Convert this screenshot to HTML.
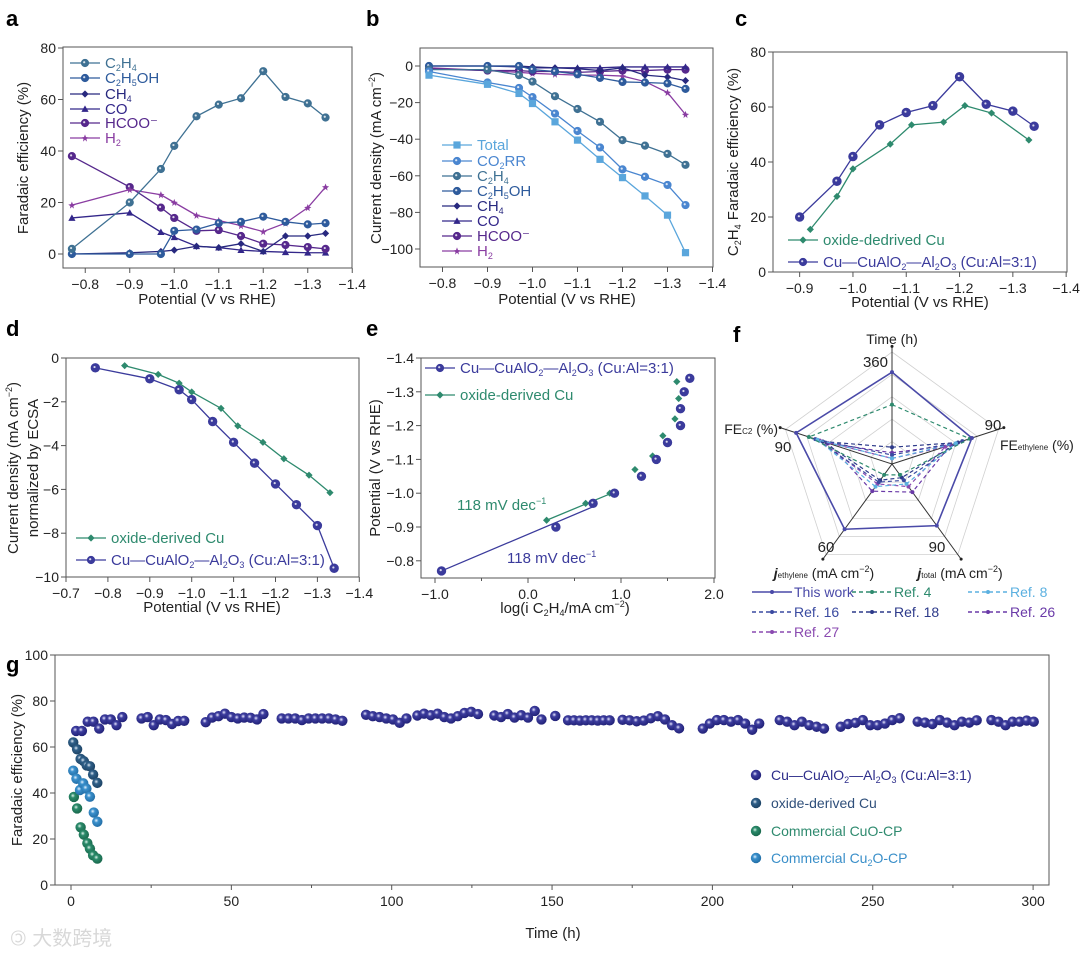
<!DOCTYPE html>
<html><head><meta charset="utf-8"><style>
html,body{margin:0;padding:0;background:#fff;}
svg{display:block;font-family:"Liberation Sans","Noto Sans CJK SC",sans-serif;}
</style></head><body>
<svg id="fig" width="1080" height="956" viewBox="0 0 1080 956" xmlns="http://www.w3.org/2000/svg">
<defs>
<radialGradient id="gNavy" cx="0.4" cy="0.38" r="0.6"><stop offset="0" stop-color="#e8e8ff"/><stop offset="0.35" stop-color="#3d3d9e"/><stop offset="1" stop-color="#23237a"/></radialGradient>
<radialGradient id="gTeal" cx="0.4" cy="0.38" r="0.6"><stop offset="0" stop-color="#dfeaf5"/><stop offset="0.35" stop-color="#2f5f88"/><stop offset="1" stop-color="#1d4466"/></radialGradient>
<radialGradient id="gGreen" cx="0.4" cy="0.38" r="0.6"><stop offset="0" stop-color="#dff5ec"/><stop offset="0.35" stop-color="#2a8a6a"/><stop offset="1" stop-color="#1a6a4e"/></radialGradient>
<radialGradient id="gBlue" cx="0.4" cy="0.38" r="0.6"><stop offset="0" stop-color="#e6f3ff"/><stop offset="0.35" stop-color="#3a90cc"/><stop offset="1" stop-color="#2470a8"/></radialGradient>
</defs>
<text x="6" y="26" font-size="22" font-weight="bold">a</text>
<text x="366" y="26" font-size="22" font-weight="bold">b</text>
<text x="735" y="26" font-size="22" font-weight="bold">c</text>
<text x="6" y="336" font-size="22" font-weight="bold">d</text>
<text x="366" y="336" font-size="22" font-weight="bold">e</text>
<text x="733" y="342" font-size="22" font-weight="bold">f</text>
<text x="6" y="672" font-size="22" font-weight="bold">g</text>
<text x="10" y="945" font-size="20" fill="#d8d8d8">🄯 大数跨境</text>
</svg>
<script>
// ---------- Panel a data ----------
const aPot = [-0.77,-0.9,-0.97,-1.0,-1.05,-1.1,-1.15,-1.2,-1.25,-1.3,-1.34];
const aC2H4 = [2,20,33,42,53.5,58,60.5,71,61,58.5,53];
const aC2H5OH = [0,0,0,9,9.5,12,12.5,14.5,12.5,11.5,12];
const aCH4 = [0,0.5,1,1.5,3,2.5,4,1,7,7,8];
const aCO = [14,16,8.5,6.5,3,2.5,1.5,1,0.7,0.5,0.5];
const aHCOO = [38,26,18,14,9,9.3,7,4,3.5,2.7,2];
const aH2 = [19,25,23,20,15,13,11,8.7,12,18,26];
const aYTicks = [0,20,40,60,80];
const potTicks = [-0.8,-0.9,-1.0,-1.1,-1.2,-1.3,-1.4];
// ---------- Panel b data ----------
const bTotal = [-5,-10,-15,-20.5,-30.5,-40.5,-51,-61,-71,-81.5,-102];
const bCO2RR = [-3,-9,-12,-17,-26,-35.5,-44.5,-56.5,-60.5,-65,-76];
const bC2H4 = [-2,-2,-5,-8.5,-16.5,-23.5,-30.5,-40.5,-43.5,-48,-54];
const bC2H5OH = [0,0,0,-2,-3,-4.5,-6.5,-8.7,-9,-9.5,-12.5];
const bCH4 = [0,0,0,-0.5,-1,-1.5,-2.5,-1,-5,-6,-8];
const bCO = [0,0,-0.5,-1,-1,-1,-1,-0.5,-0.5,-0.5,-0.5];
const bHCOO = [-1.5,-2.5,-2.5,-3,-3,-3.5,-3,-2.5,-2.5,-2,-2];
const bH2 = [-1,-2.5,-3.5,-4,-4.5,-5,-5,-5.5,-8.5,-14.5,-26.5];
const bYTicks = [0,-20,-40,-60,-80,-100];
// ---------- Panel c data ----------
const cPotCu = [-0.9,-0.97,-1.0,-1.05,-1.1,-1.15,-1.2,-1.25,-1.3,-1.34];
const cFECu = [20,33,42,53.5,58,60.5,71,61,58.5,53];
const cPotOD = [-0.92,-0.97,-1.0,-1.07,-1.11,-1.17,-1.21,-1.26,-1.33];
const cFEOD = [15.5,27.5,37.5,46.5,53.5,54.5,60.5,57.8,48];
const cXTicks = [-0.9,-1.0,-1.1,-1.2,-1.3,-1.4];
// ---------- Panel d data ----------
const dPotCu = [-0.77,-0.9,-0.97,-1.0,-1.05,-1.1,-1.15,-1.2,-1.25,-1.3,-1.34];
const dJCu = [-0.45,-0.95,-1.45,-1.9,-2.9,-3.85,-4.8,-5.75,-6.7,-7.65,-9.6];
const dPotOD = [-0.84,-0.92,-0.97,-1.0,-1.07,-1.11,-1.17,-1.22,-1.28,-1.33];
const dJOD = [-0.35,-0.75,-1.15,-1.55,-2.3,-3.1,-3.85,-4.6,-5.35,-6.15];
const dXTicks = [-0.7,-0.8,-0.9,-1.0,-1.1,-1.2,-1.3,-1.4];
const dYTicks = [0,-2,-4,-6,-8,-10];
// ---------- Panel e data ----------
const eLogCu = [-0.93,0.3,0.7,0.93,1.22,1.38,1.5,1.64,1.64,1.68,1.74];
const ePotCu = [-0.77,-0.9,-0.97,-1.0,-1.05,-1.1,-1.15,-1.2,-1.25,-1.3,-1.34];
const eLogOD = [0.2,0.62,0.88,1.15,1.34,1.45,1.58,1.62,1.6];
const ePotOD = [-0.92,-0.97,-1.0,-1.07,-1.11,-1.17,-1.22,-1.28,-1.33];
const eFitCuX = [-0.93,0.7];
const eFitCuY = [-0.77,-0.96];
const eFitODX = [0.2,0.9];
const eFitODY = [-0.92,-1.0];
const eXTicks = [-1.0,0.0,1.0,2.0];
const eYTicks = [-0.8,-0.9,-1.0,-1.1,-1.2,-1.3,-1.4];
// ---------- Panel f data (order: Time, FEethylene, jtotal, jethylene, FEC2) ----------
const fSeriesNames = ["This work","Ref. 4","Ref. 8","Ref. 16","Ref. 18","Ref. 26","Ref. 27"];
const fThis = [0.82,0.75,0.68,0.72,0.90];
const fRef4 = [0.53,0.73,0.12,0.12,0.78];
const fRef8 = [0.05,0.60,0.22,0.25,0.70];
const fRef16 = [0.08,0.66,0.18,0.20,0.72];
const fRef18 = [0.15,0.62,0.15,0.18,0.65];
const fRef26 = [0.10,0.55,0.31,0.30,0.60];
const fRef27 = [0.05,0.50,0.25,0.22,0.68];
// ---------- Panel g data ----------
const gSegStart = [1.6,22,42,65.7,92,108,132,151,155,172,197,221,240,264,287];
const gSegStep = [1.8,1.9,2.0,2.1,2.1,2.1,2.1,1,1.85,2.2,2.2,2.3,2.3,2.3,2.2];
const gSegVals = [
 [67,67,71,71,68,72,72,69.5,73],
 [72.4,73,69.5,72,71.7,70,71.3,71.4],
 [70.8,72.8,73.4,74.5,73,72.4,72.8,72.7,72,74.3],
 [72.4,72.4,72.4,71.7,72.4,72.4,72.4,72.4,72,71.4],
 [74,73.4,73,72.4,72,70.5,72.4],
 [73.7,74.5,73.8,74.5,73,72.4,73.4,74.8,75.3,74.3],
 [73.7,73,74.3,72.8,73.8,72.8,75.7,72],
 [73.5],
 [71.6,71.6,71.5,71.6,71.6,71.5,71.6,71.6],
 [71.8,71.6,71.2,71.5,72.5,73.4,72,69.5,68.1],
 [68,70.2,71.7,71.7,71,71.7,70.2,67.5,70.2],
 [71.7,71,69.5,71,69.5,68.8,68],
 [68.8,70,70.5,71.7,69.5,69.5,70.2,71.7,72.5],
 [71,70.6,70,71.7,70.6,69.5,71,70.6,71.6],
 [71.7,71,69.5,71,71,71.5,71]
];
const gODTime = [0.7,1.9,3,4,4.9,5.9,6.9,8.2];
const gODFE = [62,59,54.8,53.8,52,51.6,48,44.4];
const gCu2OTime = [0.7,1.7,2.8,3.8,4.8,5.9,7.1,8.2];
const gCu2OFE = [49.7,46.2,41.3,44.2,41.9,38.4,31.5,27.5];
const gCuOTime = [0.9,1.9,3,4,5.1,5.9,6.9,8.2];
const gCuOFE = [38.3,33.3,25.1,21.9,18.2,15.8,12.9,11.5];
const gXTicks = [0,50,100,150,200,250,300];
const gYTicks = [0,20,40,60,80,100];

const NS = "http://www.w3.org/2000/svg";
const svg = document.getElementById('fig');
function el(tag, attrs, parent, txt){
  const e = document.createElementNS(NS, tag);
  for (const k in attrs) e.setAttribute(k, attrs[k]);
  if (txt !== undefined) e.textContent = txt;
  (parent || svg).appendChild(e);
  return e;
}
function fmt(v, d){ const s = Math.abs(v).toFixed(d); return (v < 0 ? "\u2212" : "") + s; }

function frame(x0,y0,x1,y1,name){
  const r = el('rect',{x:x0,y:y0,width:x1-x0,height:y1-y0,fill:'none',stroke:'#555','stroke-width':1});
  
  
}
function xTicks(ticks, sx, yb, dec, name, minor){
  ticks.forEach(t=>{
    const x = sx(t);
    const l = el('line',{x1:x,y1:yb,x2:x,y2:yb+5,stroke:'#555'});
    
    
    const tx = el('text',{x:x,y:yb+21,'font-size':14,'text-anchor':'middle',fill:'#222'}, null, fmt(t,dec));
    
    
  });
  if (minor) minor.forEach(t=>{
    const x = sx(t);
    const l = el('line',{x1:x,y1:yb,x2:x,y2:yb+3,stroke:'#555'});
    
    
  });
}
function yTicks(ticks, sy, xl, dec, name){
  ticks.forEach(t=>{
    const y = sy(t);
    const l = el('line',{x1:xl-5,y1:y,x2:xl,y2:y,stroke:'#555'});
    
    
    const tx = el('text',{x:xl-7,y:y+5,'font-size':14,'text-anchor':'end',fill:'#222'}, null, fmt(t,dec));
    
    
  });
}
function marker(type, x, y, color, name, size){
  const s = size || 3.6;
  let m;
  if (type==='circle') m = el('circle',{cx:x,cy:y,r:s,fill:color,stroke:color});
  else if (type==='square') m = el('rect',{x:x-s,y:y-s,width:2*s,height:2*s,fill:color});
  else if (type==='diamond') m = el('polygon',{points:`${x},${y-s} ${x+s},${y} ${x},${y+s} ${x-s},${y}`,fill:color});
  else if (type==='tri') m = el('polygon',{points:`${x},${y-s} ${x+s},${y+s*0.8} ${x-s},${y+s*0.8}`,fill:color});
  else if (type==='star') m = el('polygon',{points:`${x},${y-s} ${x+1},${y-1} ${x+s},${y-0.5} ${x+1.5},${y+1} ${x+2},${y+s} ${x},${y+1.8} ${x-2},${y+s} ${x-1.5},${y+1} ${x-s},${y-0.5} ${x-1},${y-1}`,fill:color});
  
  
  if (type==='circle'){ const h = el('circle',{cx:x-0.8,cy:y-0.8,r:1.1,fill:'#fff',opacity:0.8});   }
}
function series(xs, ys, sx, sy, color, type, name, dash, size){
  const pts = xs.map((v,i)=>sx(v)+','+sy(ys[i])).join(' ');
  const p = el('polyline',{points:pts,fill:'none',stroke:color,'stroke-width':1.3,'stroke-dasharray':dash||'none'});
  
  
  if (type) xs.forEach((v,i)=>marker(type, sx(v), sy(ys[i]), color, name+'-point', size));
}
function legendLine(x, y, color, type, label, name, tcolor, dash, fs){
  const l = el('line',{x1:x,y1:y,x2:x+30,y2:y,stroke:color,'stroke-width':1.3,'stroke-dasharray':dash||'none'});
  
  
  if (type) marker(type, x+15, y, color, name+'-swatch-marker');
  const t = el('text',{x:x+35,y:y+5,'font-size':fs||15,fill:tcolor||color}, null, label);
  
  
  return t;
}
function title(x,y,txt,name,rot,fs){
  const t = el('text',{x:x,y:y,'font-size':fs||15,'text-anchor':'middle',fill:'#222',transform:rot?`rotate(-90 ${x} ${y})`:''}, null, '');
  t.innerHTML = txt;
  
  
}
const sub = s => `<tspan font-size="9" baseline-shift="-3">${s}</tspan>`;
const sup = s => `<tspan font-size="9" baseline-shift="6">${s}</tspan>`;

// ---------- Panel a ----------
{
  const sx = v => 63 + (-v-0.75)*445, sy = v => 254 - v*2.575;
  frame(63,47,352,268,'panel-a-frame');
  xTicks(potTicks, sx, 268, 1, 'a-x-axis');
  yTicks(aYTicks, sy, 63, 0, 'a-y-axis');
  title(207,304,'Potential (V vs RHE)','a-x-axis-title');
  title(28,158,'Faradaic efficiency (%)','a-y-axis-title',true);
  const cols = ['#3f7193','#2e5b9c','#28297f','#33278a','#56288c','#8a3da2'];
  series(aPot,aCO,sx,sy,cols[3],'tri','a-series-co');
  series(aPot,aHCOO,sx,sy,cols[4],'circle','a-series-hcoo');
  series(aPot,aH2,sx,sy,cols[5],'star','a-series-h2');
  series(aPot,aCH4,sx,sy,cols[2],'diamond','a-series-ch4');
  series(aPot,aC2H5OH,sx,sy,cols[1],'circle','a-series-c2h5oh');
  series(aPot,aC2H4,sx,sy,cols[0],'circle','a-series-c2h4');
  const labs = ['C'+sub('2')+'H'+sub('4'),'C'+sub('2')+'H'+sub('5')+'OH','CH'+sub('4'),'CO','HCOO\u207B','H'+sub('2')];
  const types = ['circle','circle','diamond','tri','circle','star'];
  const ys = [63,78,94,109,123,138];
  labs.forEach((lb,i)=>{ const t = legendLine(70,ys[i],cols[i],types[i],'', 'a-legend-entry-'+i); t.innerHTML = lb; });
}
// ---------- Panel b ----------
{
  const sx = v => 420 + (-v-0.75)*450, sy = v => 66 - v*1.83;
  frame(420,48,713,267,'panel-b-frame');
  xTicks(potTicks, sx, 267, 1, 'b-x-axis');
  yTicks(bYTicks, sy, 420, 0, 'b-y-axis');
  title(567,304,'Potential (V vs RHE)','b-x-axis-title');
  title(381,158,'Current density (mA cm'+sup('\u22122')+')','b-y-axis-title',true);
  const cols = ['#5aa6dc','#4a86d0','#3f7193','#2e5b9c','#28297f','#33278a','#56288c','#8a3da2'];
  const data = [bTotal,bCO2RR,bC2H4,bC2H5OH,bCH4,bCO,bHCOO,bH2];
  const types = ['square','circle','circle','circle','diamond','tri','circle','star'];
  const names = ['total','co2rr','c2h4','c2h5oh','ch4','co','hcoo','h2'];
  for (let i=data.length-1;i>=0;i--) series(aPot,data[i],sx,sy,cols[i],types[i],'b-series-'+names[i]);
  const labs = ['Total','CO'+sub('2')+'RR','C'+sub('2')+'H'+sub('4'),'C'+sub('2')+'H'+sub('5')+'OH','CH'+sub('4'),'CO','HCOO\u207B','H'+sub('2')];
  const ys = [145,161,176,191,206,221,236,251];
  labs.forEach((lb,i)=>{ const t = legendLine(442,ys[i],cols[i],types[i],'', 'b-legend-entry-'+names[i]); t.innerHTML = lb; });
}
// ---------- Panel c ----------
{
  const sx = v => 773 + (-v-0.85)*533, sy = v => 272 - v*2.75;
  frame(773,52,1067,272,'panel-c-frame');
  xTicks(cXTicks, sx, 272, 1, 'c-x-axis');
  yTicks(aYTicks, sy, 773, 0, 'c-y-axis');
  title(920,307,'Potential (V vs RHE)','c-x-axis-title');
  title(738,162,'C'+sub('2')+'H'+sub('4')+' Faradaic efficiency (%)','c-y-axis-title',true);
  series(cPotOD,cFEOD,sx,sy,'#2e8a6e','diamond','c-series-oxide-derived-cu');
  series(cPotCu,cFECu,sx,sy,'#3b3b9c','circle','c-series-cu-cualo2',null,4.2);
  legendLine(788,240,'#2e8a6e','diamond','oxide-dedrived Cu','c-legend-oxide-derived');
  const t = legendLine(788,262,'#3b3b9c','circle','','c-legend-cu-cualo2');
  t.innerHTML = 'Cu\u2014CuAlO'+sub('2')+'\u2014Al'+sub('2')+'O'+sub('3')+' (Cu:Al=3:1)';
}
// ---------- Panel d ----------
{
  const sx = v => 66 + (-v-0.7)*419, sy = v => 358 - v*21.9;
  frame(66,358,359,577,'panel-d-frame');
  xTicks(dXTicks, sx, 577, 1, 'd-x-axis');
  yTicks(dYTicks, sy, 66, 0, 'd-y-axis');
  title(212,612,'Potential (V vs RHE)','d-x-axis-title');
  title(18,468,'Current density (mA cm'+sup('\u22122')+')','d-y-axis-title',true);
  title(38,468,'normalized by ECSA','d-y-axis-title-2',true);
  series(dPotOD,dJOD,sx,sy,'#2e8a6e','diamond','d-series-oxide-derived-cu');
  series(dPotCu,dJCu,sx,sy,'#3b3b9c','circle','d-series-cu-cualo2',null,4.2);
  legendLine(76,538,'#2e8a6e','diamond','oxide-derived Cu','d-legend-oxide-derived');
  const t = legendLine(76,560,'#3b3b9c','circle','','d-legend-cu-cualo2');
  t.innerHTML = 'Cu\u2014CuAlO'+sub('2')+'\u2014Al'+sub('2')+'O'+sub('3')+' (Cu:Al=3:1)';
}
// ---------- Panel e ----------
{
  const sx = v => 528 + v*93, sy = v => 358 + (v+1.4)*338;
  frame(421,358,715,578,'panel-e-frame');
  xTicks(eXTicks, sx, 578, 1, 'e-x-axis',[-0.5,0.5,1.5]);
  yTicks(eYTicks, sy, 421, 1, 'e-y-axis');
  title(565,613,'log(i C'+sub('2')+'H'+sub('4')+'/mA cm'+sup('\u22122')+')','e-x-axis-title');
  title(380,468,'Potential (V vs RHE)','e-y-axis-title',true);
  series(eFitODX,eFitODY,sx,sy,'#2e8a6e',null,'e-fit-oxide-derived');
  series(eFitCuX,eFitCuY,sx,sy,'#3b3b9c',null,'e-fit-cu-cualo2');
  eLogOD.forEach((v,i)=>marker('diamond',sx(v),sy(ePotOD[i]),'#2e8a6e','e-point-oxide-derived'));
  eLogCu.forEach((v,i)=>marker('circle',sx(v),sy(ePotCu[i]),'#3b3b9c','e-point-cu-cualo2',4.2));
  const t = legendLine(425,368,'#3b3b9c','circle','','e-legend-cu-cualo2');
  t.innerHTML = 'Cu\u2014CuAlO'+sub('2')+'\u2014Al'+sub('2')+'O'+sub('3')+' (Cu:Al=3:1)';
  legendLine(425,395,'#2e8a6e','diamond','oxide-derived Cu','e-legend-oxide-derived');
  const a1 = el('text',{x:457,y:510,'font-size':15,fill:'#2e8a6e'},null,'');
  a1.innerHTML = '118 mV dec'+sup('\u22121');
  
  
  const a2 = el('text',{x:507,y:563,'font-size':15,fill:'#3b3b9c'},null,'');
  a2.innerHTML = '118 mV dec'+sup('\u22121');
  
  
}
// ---------- Panel f radar ----------
{
  const cx = 892, cy = 464, R = 112;
  const ang = i => (-90 + 72*i) * Math.PI/180;
  const pt = (i,r) => [cx + r*Math.cos(ang(i)), cy + r*Math.sin(ang(i))];
  [0.2,0.4,0.6,0.8,1.0].forEach(lv=>{
    const g = el('polygon',{points:[0,1,2,3,4].map(i=>pt(i,lv*R).join(',')).join(' '),fill:'none',stroke:'#d0d0d0','stroke-width':0.8});
    
    
  });
  [0,1,2,3,4].forEach(i=>{
    const e = pt(i,R*1.05);
    const l = el('line',{x1:cx,y1:cy,x2:e[0],y2:e[1],stroke:'#333','stroke-width':1});
    
    
    const d = el('circle',{cx:e[0],cy:e[1],r:1.5,fill:'#222'});
    
    
  });
  const data = [fThis,fRef4,fRef8,fRef16,fRef18,fRef26,fRef27];
  const cols = ['#4a4aa8','#2e8a6e','#5bb0e0','#3a4aa0','#2d3a8a','#6a3aa8','#8a4ab0'];
  for (let k=data.length-1;k>=0;k--){
    const vals = data[k];
    const pts = vals.map((v,i)=>pt(i,v*R));
    const p = el('polygon',{points:pts.map(q=>q.join(',')).join(' '),fill:'none',stroke:cols[k],'stroke-width':k===0?1.6:1.2,'stroke-dasharray':k===0?'none':'4,3'});
    
    
    pts.forEach(q=>{ const c = el('circle',{cx:q[0],cy:q[1],r:2,fill:cols[k]});   });
  }
  const lab = (x,y,txt,name,anchor,fs)=>{ const t = el('text',{x:x,y:y,'font-size':fs||14,'text-anchor':anchor||'middle',fill:'#222'},null,''); t.innerHTML = txt;   };
  lab(892,344,'Time (h)','f-axis-label-time');
  lab(888,367,'360','f-axis-max-time','end',15);
  lab(993,430,'90','f-axis-max-feethylene','middle',15);
  lab(1000,450,'FE<tspan font-size="8">ethylene</tspan> (%)','f-axis-label-feethylene','start');
  lab(778,434,'FE<tspan font-size="8">C2</tspan> (%)','f-axis-label-fec2','end');
  lab(783,452,'90','f-axis-max-fec2','middle',15);
  lab(826,552,'60','f-axis-max-jethylene','middle',15);
  lab(937,552,'90','f-axis-max-jtotal','middle',15);
  lab(824,578,'<tspan font-style="italic" font-weight="bold">j</tspan><tspan font-size="8">ethylene</tspan> (mA cm'+sup('\u22122')+')','f-axis-label-jethylene');
  lab(960,578,'<tspan font-style="italic" font-weight="bold">j</tspan><tspan font-size="8">total</tspan> (mA cm'+sup('\u22122')+')','f-axis-label-jtotal');
  const lx = [752,852,968,752,852,968,752], ly = [592,592,592,612,612,612,632];
  fSeriesNames.forEach((n,k)=>{
    const l = el('line',{x1:lx[k],y1:ly[k],x2:lx[k]+40,y2:ly[k],stroke:cols[k],'stroke-width':1.4,'stroke-dasharray':k===0?'none':'4,3'});
    
    
    const c = el('circle',{cx:lx[k]+20,cy:ly[k],r:2,fill:cols[k]});
    
    
    const t = el('text',{x:lx[k]+42,y:ly[k]+5,'font-size':14,fill:cols[k]},null,n);
    
    
  });
}
// ---------- Panel g ----------
{
  const sx = v => 71 + v*3.207, sy = v => 885 - v*2.3;
  frame(55,655,1049,885,'panel-g-frame');
  xTicks(gXTicks, sx, 885, 0, 'g-x-axis',[25,75,125,175,225,275]);
  yTicks(gYTicks, sy, 55, 0, 'g-y-axis');
  title(553,938,'Time (h)','g-x-axis-title');
  title(22,770,'Faradaic efficiency (%)','g-y-axis-title',true);
  const ball = (h,v,fill,name)=>{ const c = el('circle',{cx:sx(h),cy:sy(v),r:5.2,fill:fill});   };
  gCuOTime.forEach((h,i)=>ball(h,gCuOFE[i],'url(#gGreen)','g-point-commercial-cuo'));
  gCu2OTime.forEach((h,i)=>ball(h,gCu2OFE[i],'url(#gBlue)','g-point-commercial-cu2o'));
  gODTime.forEach((h,i)=>ball(h,gODFE[i],'url(#gTeal)','g-point-oxide-derived-cu'));
  gSegVals.forEach((vals,s)=>vals.forEach((v,i)=>ball(gSegStart[s]+i*gSegStep[s],v,'url(#gNavy)','g-point-cu-cualo2')));
  const items = [['Cu\u2014CuAlO'+sub('2')+'\u2014Al'+sub('2')+'O'+sub('3')+' (Cu:Al=3:1)','url(#gNavy)','#2d2d8a'],['oxide-derived Cu','url(#gTeal)','#2f4f7a'],['Commercial CuO-CP','url(#gGreen)','#2e8a6e'],['Commercial Cu'+sub('2')+'O-CP','url(#gBlue)','#3a8fc9']];
  const gy = [775,803,831,858];
  items.forEach((it,i)=>{
    const c = el('circle',{cx:756,cy:gy[i],r:5.2,fill:it[1]});
    
    
    const t = el('text',{x:771,y:gy[i]+5,'font-size':14,fill:it[2]},null,'');
    t.innerHTML = it[0];
    
    
  });
}
</script>
</body></html>
